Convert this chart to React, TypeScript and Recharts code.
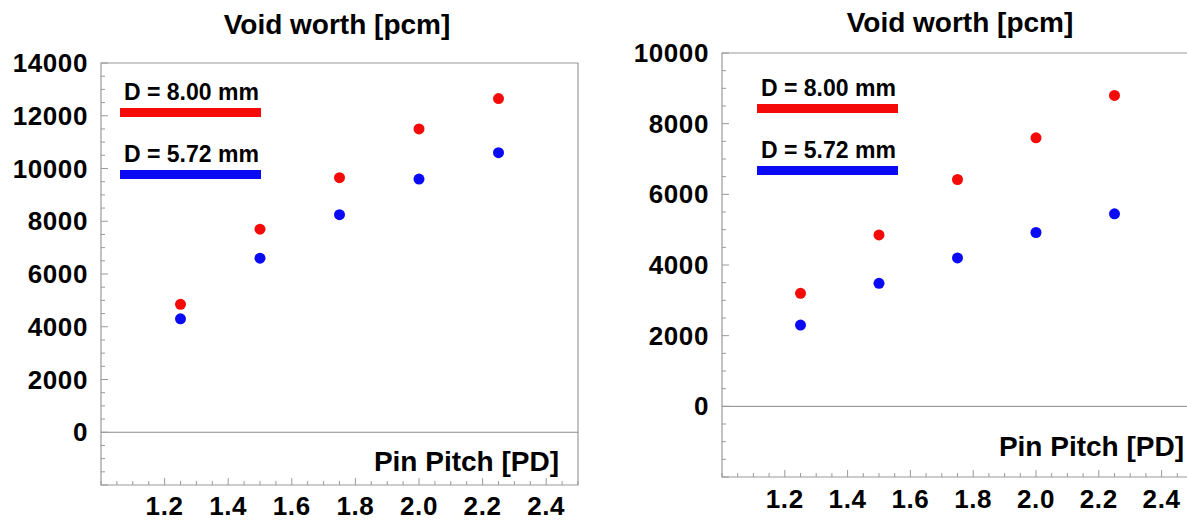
import React from "react";
import { ScatterChart, Scatter, XAxis, YAxis, ReferenceArea, ReferenceLine, Legend } from "recharts";

// pin pitch (PD) of the five lattices
const pitch = [1.25, 1.5, 1.75, 2.0, 2.25];

// left panel, void worth [pcm]
const leftD800 = [4850, 7700, 9650, 11500, 12650];
const leftD572 = [4300, 6600, 8250, 9600, 10600];

// right panel, void worth [pcm]
const rightD800 = [3200, 4850, 6420, 7600, 8800];
const rightD572 = [2300, 3480, 4200, 4920, 5450];

const seriesNames = ["D = 8.00 mm", "D = 5.72 mm"];

const xTicks = [
  1.0, 1.05, 1.1, 1.15, 1.2, 1.25, 1.3, 1.35, 1.4, 1.45, 1.5, 1.55, 1.6, 1.65, 1.7, 1.75,
  1.8, 1.85, 1.9, 1.95, 2.0, 2.05, 2.1, 2.15, 2.2, 2.25, 2.3, 2.35, 2.4, 2.45, 2.5,
];
const xLabels = [1.2, 1.4, 1.6, 1.8, 2.0, 2.2, 2.4];

const leftYTicks = [
  -2000, -1500, -1000, -500, 0, 500, 1000, 1500, 2000, 2500, 3000, 3500, 4000, 4500, 5000, 5500,
  6000, 6500, 7000, 7500, 8000, 8500, 9000, 9500, 10000, 10500, 11000, 11500, 12000, 12500,
  13000, 13500, 14000,
];
const leftYLabels = [0, 2000, 4000, 6000, 8000, 10000, 12000, 14000];

const rightYTicks = [
  -2000, -1500, -1000, -500, 0, 500, 1000, 1500, 2000, 2500, 3000, 3500, 4000, 4500, 5000, 5500,
  6000, 6500, 7000, 7500, 8000, 8500, 9000, 9500, 10000,
];
const rightYLabels = [0, 2000, 4000, 6000, 8000, 10000];

const COLORS = ["#f50a0a", "#0a0af5"];
const FONT = '"Liberation Sans", Arial, Helvetica, sans-serif';
const FRAME = "#9a9a9a";
const tickFont = { fontFamily: FONT, fontWeight: 700, fontSize: 26, letterSpacing: 0.6, fill: "#000" };

const isIn = (list: number[], v: number) => list.some((l) => Math.abs(l - v) < 1e-6);

function XTick(props: any) {
  const { x, y, payload, side, labelDy } = props;
  const v = payload.value;
  const major = isIn(xLabels, v);
  const len = major ? 7 : 4;
  const dir = side === "bottom" ? -1 : 1;
  return (
    <g>
      <line x1={x} x2={x} y1={y} y2={y + dir * len} stroke={FRAME} strokeWidth={1} />
      {side === "bottom" && major ? (
        <text x={x} y={y + labelDy} textAnchor="middle" style={tickFont}>
          {v.toFixed(1)}
        </text>
      ) : null}
    </g>
  );
}

function YTick(props: any) {
  const { x, y, payload, side, labels } = props;
  const v = payload.value;
  const major = isIn(labels, v) || v === -2000;
  const len = major ? 7 : 4;
  const dir = side === "left" ? 1 : -1;
  return (
    <g>
      <line x1={x} x2={x + dir * len} y1={y} y2={y} stroke={FRAME} strokeWidth={1} />
      {side === "left" && isIn(labels, v) ? (
        <text x={x - 13} y={y + 9} textAnchor="end" style={tickFont}>
          {String(v)}
        </text>
      ) : null}
    </g>
  );
}

function LegendBox({ payload }: any) {
  const items = [...(payload || [])].sort(
    (a: any, b: any) => seriesNames.indexOf(a.value) - seriesNames.indexOf(b.value)
  );
  return (
    <div style={{ position: "relative", width: 150, height: 110 }}>
      {items.map((p: any, i: number) => (
        <React.Fragment key={p.value}>
          <div
            style={{
              position: "absolute",
              left: 4,
              top: i * 62,
              fontFamily: FONT,
              fontWeight: 700,
              fontSize: 23,
              lineHeight: "23px",
              whiteSpace: "nowrap",
              color: "#000",
            }}
          >
            {p.value}
          </div>
          <div style={{ position: "absolute", left: 0, top: i * 62 + 27, width: 141, height: 9, background: p.color }} />
        </React.Fragment>
      ))}
    </div>
  );
}

function Dot(props: any) {
  const { cx, cy, fill } = props;
  return <circle cx={cx} cy={cy} r={5.5} fill={fill} />;
}

function Panel(props: any) {
  const { left, width, big, small, yDomain, yTicks, yLabels, m, legend } = props;
  const rowsBig = pitch.map((x, i) => ({ x, y: big[i] }));
  const rowsSmall = pitch.map((x, i) => ({ x, y: small[i] }));
  return (
    <div style={{ position: "absolute", left, top: 0 }}>
      <ScatterChart width={width} height={521} margin={{ top: m.top, right: m.right, bottom: 0, left: 0 }}>
        <XAxis
          type="number"
          dataKey="x"
          domain={[1, 2.5]}
          ticks={xTicks}
          interval={0}
          height={m.bottom}
          tickSize={0}
          tickMargin={0}
          tickLine={false}
          axisLine={false}
          tick={(p: any) => <XTick {...p} side="bottom" labelDy={m.xLabelDy} />}
        />
        <XAxis
          xAxisId="top"
          orientation="top"
          type="number"
          domain={[1, 2.5]}
          ticks={xTicks}
          interval={0}
          height={0}
          tickSize={0}
          tickMargin={0}
          tickLine={false}
          axisLine={false}
          tick={(p: any) => <XTick {...p} side="top" />}
        />
        <YAxis
          type="number"
          dataKey="y"
          domain={yDomain}
          ticks={yTicks}
          interval={0}
          width={m.left}
          tickSize={0}
          tickMargin={0}
          tickLine={false}
          axisLine={false}
          tick={(p: any) => <YTick {...p} side="left" labels={yLabels} />}
        />
        <YAxis
          yAxisId="right"
          orientation="right"
          type="number"
          domain={yDomain}
          ticks={yTicks}
          interval={0}
          width={0}
          tickSize={0}
          tickMargin={0}
          tickLine={false}
          axisLine={false}
          tick={(p: any) => <YTick {...p} side="right" labels={yLabels} />}
        />
        <ReferenceArea
          x1={1}
          x2={2.5}
          y1={yDomain[0]}
          y2={yDomain[1]}
          ifOverflow="visible"
          fill="none"
          fillOpacity={0}
          stroke={FRAME}
          strokeWidth={1.2}
          strokeOpacity={1}
        />
        <ReferenceLine y={0} stroke="#8a8a8a" strokeWidth={1} />
        <Legend
          layout="vertical"
          align="center"
          verticalAlign="middle"
          wrapperStyle={{ left: legend.left, top: legend.top, width: 150, height: 110 }}
          content={(p: any) => <LegendBox payload={p.payload} />}
        />
        <Scatter name={seriesNames[0]} data={rowsBig} fill={COLORS[0]} shape={Dot} isAnimationActive={false} />
        <Scatter name={seriesNames[1]} data={rowsSmall} fill={COLORS[1]} shape={Dot} isAnimationActive={false} />
      </ScatterChart>
    </div>
  );
}

const titleStyle: React.CSSProperties = {
  position: "absolute",
  fontFamily: FONT,
  fontWeight: 700,
  fontSize: 28,
  lineHeight: "28px",
  whiteSpace: "nowrap",
  color: "#000",
};

export default function App() {
  return (
    <div
      style={{
        position: "absolute",
        left: 0,
        top: 0,
        width: 1187,
        height: 521,
        overflow: "hidden",
        background: "#fff",
      }}
    >
      <Panel
        left={0}
        width={600}
        big={leftD800}
        small={leftD572}
        yDomain={[-2000, 14000]}
        yTicks={leftYTicks}
        yLabels={leftYLabels}
        m={{ top: 63, right: 22, bottom: 36, left: 101, xLabelDy: 30 }}
        legend={{ left: 120, top: 81 }}
      />
      <Panel
        left={600}
        width={600}
        big={rightD800}
        small={rightD572}
        yDomain={[-2000, 10000]}
        yTicks={rightYTicks}
        yLabels={rightYLabels}
        m={{ top: 53, right: 7, bottom: 44, left: 122, xLabelDy: 31 }}
        legend={{ left: 157, top: 77 }}
      />
      <div style={{ ...titleStyle, left: 0, width: 674, top: 11, textAlign: "center" }}>Void worth [pcm]</div>
      <div style={{ ...titleStyle, left: 600, width: 720, top: 9, textAlign: "center" }}>Void worth [pcm]</div>
      <div style={{ ...titleStyle, left: 0, width: 559, top: 448, textAlign: "right" }}>Pin Pitch [PD]</div>
      <div style={{ ...titleStyle, left: 600, width: 584, top: 433, textAlign: "right" }}>Pin Pitch [PD]</div>
    </div>
  );
}
